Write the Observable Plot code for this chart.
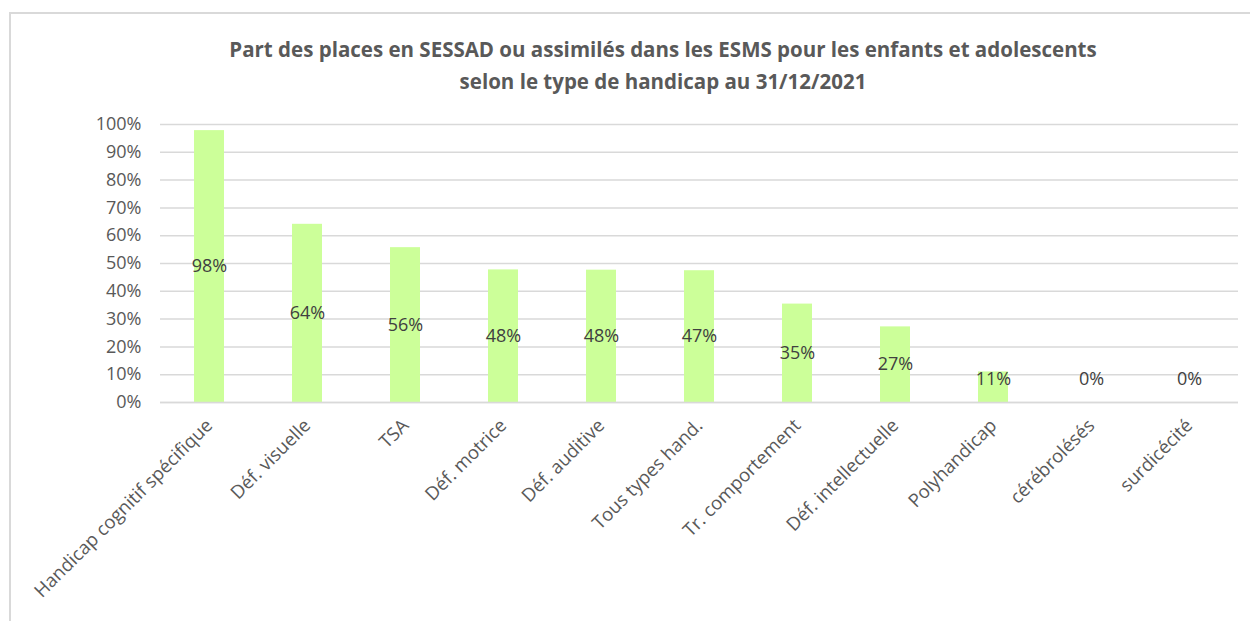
<!DOCTYPE html>
<html>
<head>
<meta charset="utf-8">
<script src="https://cdn.jsdelivr.net/npm/d3@7"></script>
<script src="https://cdn.jsdelivr.net/npm/@observablehq/plot@0.6"></script>
<style>
  html, body { margin: 0; padding: 0; background: #fff; width: 1250px; height: 621px; overflow: hidden; }
  #wrap { position: relative; width: 1250px; height: 621px; font-family: "Open Sans", Lato, sans-serif; }
  #frame { position: absolute; left: 9px; top: 12px; width: 1300px; height: 700px; border-top: 2px solid #d9d9d9; border-left: 2px solid #d9d9d9; box-sizing: border-box; }
  #title { position: absolute; left: 0; top: 33px; width: 1326px; text-align: center; font-weight: 700; font-size: 20.5px; line-height: 32px; color: #595959; }
  #chart { position: absolute; left: 0; top: 100px; }
</style>
</head>
<body>
<div id="wrap">
  <div id="frame"></div>
  <div id="title">Part des places en SESSAD ou assimilés dans les ESMS pour les enfants et adolescents<br>selon le type de handicap au 31/12/2021</div>
  <div id="chart"></div>
</div>
<script>
const categories = [
  "Handicap cognitif spécifique",
  "Déf. visuelle",
  "TSA",
  "Déf. motrice",
  "Déf. auditive",
  "Tous types hand.",
  "Tr. comportement",
  "Déf. intellectuelle",
  "Polyhandicap",
  "cérébrolésés",
  "surdicécité"
];
const values = [0.978, 0.641, 0.557, 0.477, 0.476, 0.474, 0.354, 0.272, 0.11, 0, 0];
const yTicks = [0, 0.1, 0.2, 0.3, 0.4, 0.5, 0.6, 0.7, 0.8, 0.9, 1.0];

const data = categories.map((c, i) => ({category: c, value: values[i]}));
const pct = v => Math.round(v * 100) + "%";

const chart = Plot.plot({
  width: 1250,
  height: 521,
  marginTop: 24,
  marginLeft: 160,
  marginRight: 12,
  marginBottom: 219,
  style: {fontFamily: "'Open Sans', Lato, sans-serif", fontSize: "17px", color: "#595959", background: "transparent"},
  x: {domain: categories, paddingInner: 0.69, paddingOuter: 0.345, align: 0.5, label: null},
  y: {domain: [0, 1], ticks: yTicks, label: null},
  marks: [
    Plot.gridY(yTicks, {stroke: "#d9d9d9", strokeOpacity: 1, strokeWidth: 1.5}),
    Plot.barY(data, {x: "category", y: "value", fill: "#ccff99"}),
    Plot.ruleY([0], {stroke: "#d9d9d9", strokeWidth: 1.5}),
    Plot.axisY(yTicks, {tickSize: 0, tickPadding: 19, tickFormat: pct, fill: "#595959", fontSize: 18}),
    Plot.axisX({tickSize: 0, tickPadding: 20, tickRotate: -45, fill: "#595959", fontSize: 18.5, label: null}),
    Plot.text(data, {x: "category", y: d => Math.max(d.value / 2, 0.085), text: d => pct(d.value), fill: "#404040", fontSize: 18})
  ]
});
document.getElementById("chart").appendChild(chart);
</script>
</body>
</html>
